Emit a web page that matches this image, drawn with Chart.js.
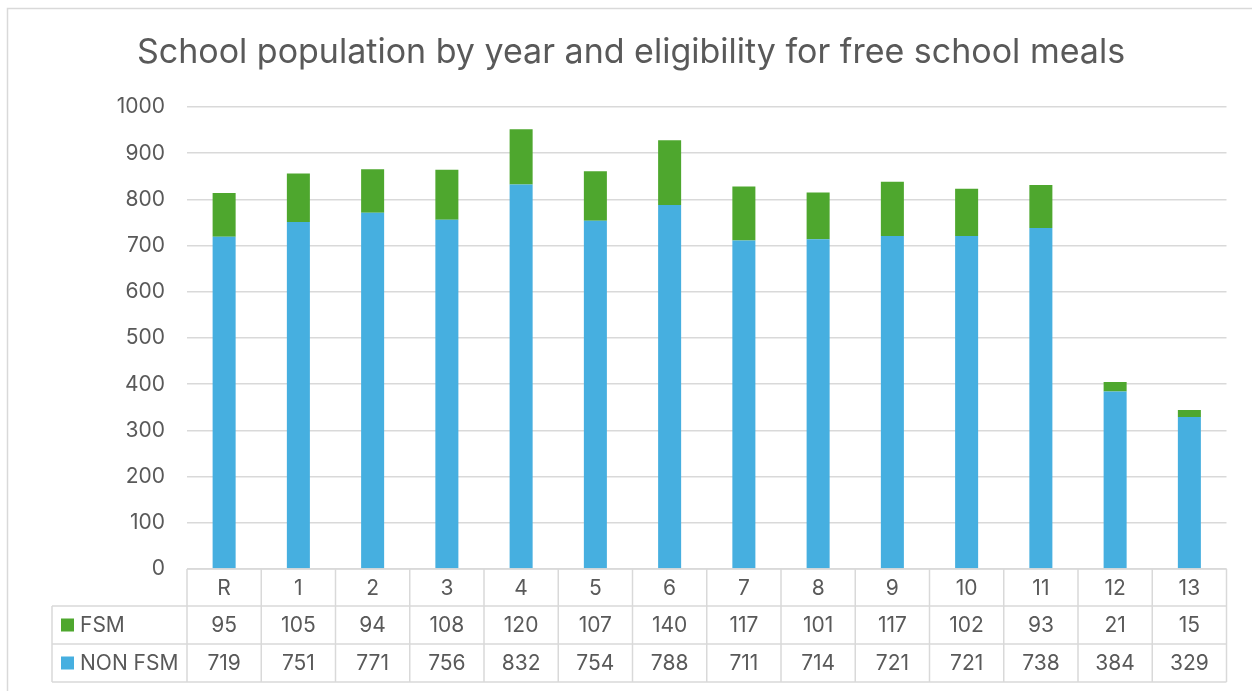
<!DOCTYPE html>
<html>
<head>
  <script src="https://cdn.jsdelivr.net/npm/chart.js"></script>
  <title>School population</title>
  <style>
    body { margin: 0; background: #fff; }
    #wrap { width: 1252px; height: 691px; position: relative; }
  </style>
</head>
<body>
  <div id="wrap"><canvas id="chart"></canvas></div>

  <script>
    // Chart data
    const years = ['R', '1', '2', '3', '4', '5', '6', '7', '8', '9', '10', '11', '12', '13'];
    const fsm = [95, 105, 94, 108, 120, 107, 140, 117, 101, 117, 102, 93, 21, 15];
    const nonFsm = [719, 751, 771, 756, 832, 754, 788, 711, 714, 721, 721, 738, 384, 329];
    const yTicks = [0, 100, 200, 300, 400, 500, 600, 700, 800, 900, 1000];

    const titleText = 'School population by year and eligibility for free school meals';
    const textColor = '#595959';
    const lineColor = '#D9D9D9';
    const green = '#4EA72E';
    const blue = '#46AFE0';
    const fontFamily = 'Inter, "Noto Sans", sans-serif';

    // Outer frame and title
    const framePlugin = {
      id: 'frame',
      beforeDraw(chart) {
        const ctx = chart.ctx;
        ctx.save();
        ctx.strokeStyle = lineColor;
        ctx.lineWidth = 1.5;
        ctx.beginPath();
        ctx.moveTo(7.5, 691);
        ctx.lineTo(7.5, 8.5);
        ctx.lineTo(1252, 8.5);
        ctx.stroke();

        ctx.fillStyle = textColor;
        ctx.font = '34px ' + fontFamily;
        ctx.textAlign = 'center';
        ctx.textBaseline = 'alphabetic';
        ctx.fillText(titleText, 631, 63);
        ctx.restore();
      }
    };

    // Data table under the plot area
    const tablePlugin = {
      id: 'dataTable',
      afterDraw(chart) {
        const ctx = chart.ctx;
        const area = chart.chartArea;
        const xs = chart.scales.x;
        const colW = (area.right - area.left) / years.length;
        const rowTop = area.bottom;
        const rows = [rowTop, 606, 644, 682];
        const labelLeft = 52;

        ctx.save();
        ctx.strokeStyle = lineColor;
        ctx.lineWidth = 1.5;
        ctx.beginPath();
        // horizontal lines
        ctx.moveTo(area.left, rows[0]);
        ctx.lineTo(area.right, rows[0]);
        for (let r = 1; r < rows.length; r++) {
          ctx.moveTo(labelLeft, rows[r]);
          ctx.lineTo(area.right, rows[r]);
        }
        // vertical lines
        ctx.moveTo(labelLeft, rows[1]);
        ctx.lineTo(labelLeft, rows[3]);
        for (let i = 0; i <= years.length; i++) {
          const x = area.left + i * colW;
          ctx.moveTo(x, rows[0]);
          ctx.lineTo(x, rows[3]);
        }
        ctx.stroke();

        ctx.fillStyle = textColor;
        ctx.font = '21px ' + fontFamily;
        ctx.textAlign = 'center';
        ctx.textBaseline = 'middle';
        years.forEach((y, i) => {
          const cx = xs.getPixelForValue(i);
          ctx.fillText(y, cx, (rows[0] + rows[1]) / 2 + 1);
          ctx.fillText(String(fsm[i]), cx, (rows[1] + rows[2]) / 2 + 1);
          ctx.fillText(String(nonFsm[i]), cx, (rows[2] + rows[3]) / 2 + 1);
        });

        // legend keys
        const keys = [
          { label: 'FSM', color: green, mid: (rows[1] + rows[2]) / 2 },
          { label: 'NON FSM', color: blue, mid: (rows[2] + rows[3]) / 2 }
        ];
        ctx.textAlign = 'left';
        keys.forEach(k => {
          ctx.fillStyle = k.color;
          ctx.fillRect(61, k.mid - 6.5, 13, 13);
          ctx.fillStyle = textColor;
          ctx.fillText(k.label, 80, k.mid + 1);
        });
        ctx.restore();
      }
    };

    const ctx = document.getElementById('chart').getContext('2d');
    new Chart(ctx, {
      type: 'bar',
      data: {
        labels: years,
        datasets: [
          {
            label: 'NON FSM',
            data: nonFsm,
            backgroundColor: blue,
            barPercentage: 0.31,
            categoryPercentage: 1
          },
          {
            label: 'FSM',
            data: fsm,
            backgroundColor: green,
            barPercentage: 0.31,
            categoryPercentage: 1
          }
        ]
      },
      options: {
        responsive: true,
        maintainAspectRatio: false,
        animation: false,
        layout: {
          padding: { left: 0, right: 25.5, top: 107, bottom: 122 }
        },
        plugins: {
          legend: { display: false },
          title: { display: false },
          tooltip: { enabled: false }
        },
        scales: {
          x: {
            display: false,
            stacked: true
          },
          y: {
            stacked: true,
            min: 0,
            max: 1000,
            afterFit(scale) { scale.width = 187; },
            afterBuildTicks(scale) { scale.ticks = yTicks.map(v => ({ value: v })); },
            border: { display: false },
            grid: { color: lineColor, lineWidth: 1.5, drawTicks: false },
            ticks: {
              color: textColor,
              padding: 22,
              font: { size: 21, family: fontFamily },
              callback: v => String(v)
            }
          }
        }
      },
      plugins: [framePlugin, tablePlugin]
    });
  </script>
</body>
</html>
